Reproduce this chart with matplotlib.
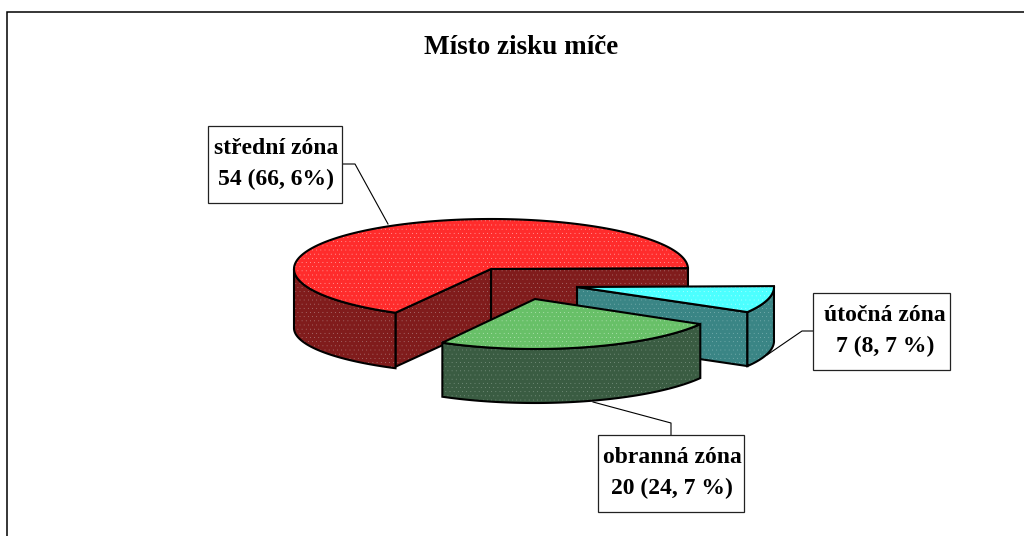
import numpy as np
import matplotlib
matplotlib.use("Agg")
import matplotlib.pyplot as plt
from matplotlib.patches import Polygon, Rectangle

# --- data ---
categories = ["střední zóna", "obranná zóna", "útočná zóna"]
values = [54, 20, 7]
value_labels = ["54 (66, 6%)", "20 (24, 7 %)", "7 (8, 7 %)"]
title = "Místo zisku míče"

# --- styles ---
top_fc = ["#ff2c2c", "#68c068", "#4cffff"]
top_dots = ["#ffe0e0", "#d8f4d8", "#e4ffff"]
side_fc = ["#801c1c", "#3a5c42", "#3a8585"]
side_dots = ["#c0a0a0", "#98ac9e", "#98c4c4"]
offsets = [(0, 0), (44, 30), (86, 18)]
rx_scale = [1.0, 0.97, 1.0]
first_angle = 1.0
CX, CY, RX, RY, DEPTH = 491, 269, 197, 50, 54
LW = 1.5

plt.rcParams["font.family"] = ["Liberation Serif", "DejaVu Serif"]
plt.rcParams["hatch.linewidth"] = 0.0

fig = plt.figure(figsize=(10.24, 5.36), dpi=100)
ax = fig.add_axes([0, 0, 1, 1])
ax.set_xlim(0, 1024)
ax.set_ylim(536, 0)
ax.axis("off")

# frame: only top and left edges fall inside the picture
ax.add_patch(Rectangle((7, 12), 1100, 600, fc="white", ec="black", lw=1.1, zorder=0))


def pt(a, i, z=0, ry=RY):
    dx, dy = offsets[i]
    r = np.deg2rad(a)
    return np.column_stack([CX + dx + RX * rx_scale[i] * np.cos(r),
                            CY + dy - ry * np.sin(r) + z])


def arc(a0, a1, i, z=0, ry=RY):
    n = max(2, int(abs(a1 - a0)) * 2)
    return pt(np.linspace(a0, a1, n), i, z, ry)


def face(xy, fc, dots, hatch="...."):
    ax.add_patch(Polygon(xy, closed=True, fc=fc, ec=dots, hatch=hatch, lw=0, zorder=2))
    ax.add_patch(Polygon(xy, closed=True, fc="none", ec="black", lw=LW, joinstyle="miter", zorder=2))


def centre(i, z=0):
    dx, dy = offsets[i]
    return np.array([[CX + dx, CY + dy + z]])


def wall(a, i):
    xy = np.vstack([centre(i), pt(a, i), pt(a, i, DEPTH), centre(i, DEPTH)])
    face(xy, side_fc[i], side_dots[i])


def outer(a0, a1, i, z=DEPTH, ry=RY):
    xy = np.vstack([arc(a0, a1, i), arc(a1, a0, i, z, ry)])
    face(xy, side_fc[i], side_dots[i])


def top(a0, a1, i):
    xy = np.vstack([centre(i), arc(a0, a1, i)])
    face(xy, top_fc[i], top_dots[i])


total = sum(values)
edges = first_angle + np.concatenate([[0], np.cumsum(values) / total * 360])

# red slice
wall(edges[0], 0)
wall(edges[1], 0)
outer(180, edges[1], 0, z=DEPTH + 5, ry=RY - 4)
top(edges[0], edges[1], 0)
# cyan slice
wall(edges[2], 2)
outer(edges[2], edges[3], 2)
top(edges[2], edges[3], 2)
# green slice
outer(edges[1], edges[2], 1)
top(edges[1], edges[2], 1)

# leader lines
leaders = [
    [(339, 164), (355, 164), (388, 224)],
    [(593, 402), (671, 423), (671, 435)],
    [(767, 355), (802, 331), (813, 331)],
]
for line in leaders:
    xs, ys = zip(*line)
    ax.plot(xs, ys, color="black", lw=0.8, zorder=1)

# label boxes
boxes = [(208, 126, 134, 77), (598, 435, 146, 77), (813, 293, 137, 77)]
text_x = [276, 672, 885]
for (x, y, w, h), tx, cat, val in zip(boxes, text_x, categories, value_labels):
    ax.add_patch(Rectangle((x, y), w, h, fc="white", ec="#222222", lw=0.9, zorder=3))
    ax.text(tx, y + h * 0.29, cat, ha="center", va="center", fontsize=17,
            fontweight="bold", zorder=4)
    ax.text(tx, y + h * 0.70, val, ha="center", va="center", fontsize=17,
            fontweight="bold", zorder=4)

ax.text(521, 48, title, ha="center", va="center", fontsize=19.5, fontweight="bold", zorder=4)

fig.savefig("out.png", dpi=100)
